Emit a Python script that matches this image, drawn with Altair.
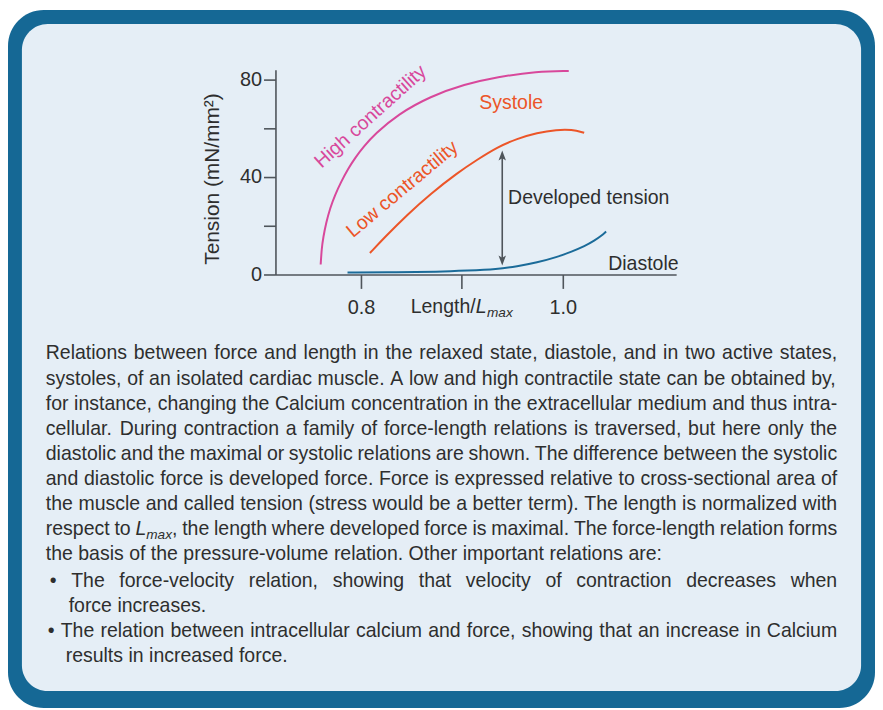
import altair as alt
import pandas as pd

# ---------------- data ----------------
high_L = [0.7601, 0.7611, 0.7626, 0.7655, 0.7695, 0.7744, 0.7803, 0.7872, 0.7941,
          0.8030, 0.8138, 0.8365, 0.8690, 0.9025, 0.9350, 0.9744, 1.0059]
high_T = [4.1, 10.6, 15.1, 21.2, 27.3, 32.7, 38.0, 43.3, 47.8,
          52.6, 57.6, 65.7, 73.1, 78.0, 81.0, 83.3, 83.5]

low_L = [0.8089, 0.8236, 0.8463, 0.8690, 0.8956, 0.9153, 0.9350, 0.9547, 0.9744,
         0.9941, 1.0089, 1.0212]
low_T = [8.8, 15.3, 24.7, 33.1, 41.7, 47.1, 52.2, 55.7, 58.1, 59.4, 59.5, 58.1]

dia_L = [0.7867, 0.8365, 0.8759, 0.9054, 0.9350, 0.9547, 0.9744, 0.9941, 1.0089,
         1.0217, 1.0315, 1.0384, 1.0429]
dia_T = [0.8, 0.9, 1.1, 1.6, 2.2, 3.3, 4.9, 7.1, 9.4, 11.6, 13.9, 15.9, 17.6]

series_names = ["high", "low", "dia"]
series_colors = ["#d8489b", "#ec5528", "#1b6b99"]

x_ticks = [0.8, 0.9, 1.0]
y_ticks = [0, 20, 40, 60, 80]

arrow_L = 0.94
arrow_lo = 5.7
arrow_hi = 48.8

caption_lines = [
    "Relations between force and length in the relaxed state, diastole, and in two active states,",
    "systoles, of an isolated cardiac muscle. A low and high contractile state can be obtained by,",
    "for instance, changing the Calcium concentration in the extracellular medium and thus intra-",
    "cellular. During contraction a family of force-length relations is traversed, but here only the",
    "diastolic and the maximal or systolic relations are shown. The difference between the systolic",
    "and diastolic force is developed force. Force is expressed relative to cross-sectional area of",
    "the muscle and called tension (stress would be a better term). The length is normalized with",
    "respect to L_max, the length where developed force is maximal. The force-length relation forms",
    "the basis of the pressure-volume relation. Other important relations are:",
    "\u2022 The force-velocity relation, showing that velocity of contraction decreases when",
    "force increases.",
    "\u2022 The relation between intracellular calcium and force, showing that an increase in Calcium",
    "results in increased force.",
]

# ---------------- style / layout ----------------
FONT = "Liberation Sans"
F = 19.6       # caption font size
FA = 19.6      # annotation font size
FL = 20.0      # tick label font size
TXT = "#2e2e2e"
AX = "#4f555b"
OUTER = "#156895"
INNER = "#e5eef6"

OX, OY = 277, 68          # page position of plot origin
W, H = 403, 206
X_LO, X_HI = 0.7153, 1.1123
Y_HI = 84

AFM = {
    " ": 278, ",": 278, ".": 278, "-": 333, ":": 278, "(": 333, ")": 333, "/": 278,
    "\u2022": 350,
    "0": 556, "1": 556, "2": 556, "3": 556, "4": 556, "5": 556, "6": 556, "7": 556, "8": 556, "9": 556,
    "A": 667, "B": 667, "C": 722, "D": 722, "E": 667, "F": 611, "G": 778, "H": 722, "I": 278,
    "J": 500, "K": 667, "L": 556, "M": 833, "N": 722, "O": 778, "P": 667, "Q": 778, "R": 722,
    "S": 667, "T": 611, "U": 722, "V": 667, "W": 944, "X": 667, "Y": 667, "Z": 611,
    "a": 556, "b": 556, "c": 500, "d": 556, "e": 556, "f": 278, "g": 556, "h": 556, "i": 222,
    "j": 222, "k": 500, "l": 222, "m": 833, "n": 556, "o": 556, "p": 556, "q": 556, "r": 333,
    "s": 500, "t": 278, "u": 556, "v": 500, "w": 722, "x": 500, "y": 500, "z": 500,
}


def tw(s, size):
    return sum(AFM.get(ch, 556) for ch in s) * size / 1000.0


def seg_word(w):
    if w.startswith("L_max"):
        return [("L", "i"), ("max", "s"), (w[5:], "n")]
    return [(w, "n")]


def segw(seg, size):
    t, st = seg
    return tw(t, size * 0.7 if st == "s" else size)


# justified caption layout
starts = [46] * 9 + [50, 69, 48, 66]
justify = [True] * 8 + [False, True, False, True, False]
bases = [359.5 + 25.2 * i for i in range(9)] + [588, 613, 639, 664]
RIGHT = 842

rows = []
for line, x0, jus, yb in zip(caption_lines, starts, justify, bases):
    words = [seg_word(w) for w in line.split(" ")]
    widths = [sum(segw(s, F) for s in wd) for wd in words]
    if jus and len(words) > 1:
        gap = (RIGHT - x0 - sum(widths)) / (len(words) - 1)
        gap = max(gap, 0.2 * F)
    else:
        gap = tw(" ", F)
    x = x0
    for wd, wdw in zip(words, widths):
        xx = x
        for t, st in wd:
            if t:
                rows.append({"px": xx - OX, "py": yb - OY + (4.5 if st == "s" else 0),
                             "txt": t, "st": st})
            xx += segw((t, st), F)
        x += wdw + gap
cap = pd.DataFrame(rows)

one = pd.DataFrame({"k": [0]})

df = pd.concat([
    pd.DataFrame({"L": high_L, "T": high_T, "s": "high"}),
    pd.DataFrame({"L": low_L, "T": low_T, "s": "low"}),
    pd.DataFrame({"L": dia_L, "T": dia_T, "s": "dia"}),
], ignore_index=True)

xs = alt.Scale(domain=[X_LO, X_HI], nice=False, zero=False)
ys = alt.Scale(domain=[0, Y_HI], nice=False, zero=True)

x_axis = alt.Axis(values=x_ticks, format=".1f",
                  labelExpr="(datum.value > 0.85 && datum.value < 0.95) ? '' : datum.label",
                  title=None, grid=False, tickSize=14, tickWidth=1.6, domainWidth=1.6,
                  domainColor=AX, tickColor=AX, labelColor=TXT, labelFontSize=FL, labelFont=FONT,
                  labelBaseline="alphabetic", labelPadding=25, labelOverlap=False, zindex=1)
y_axis = alt.Axis(values=y_ticks,
                  labelExpr="(datum.value == 20 || datum.value == 60) ? '' : datum.label",
                  title=None, grid=False, tickSize=12, tickWidth=1.6, domainWidth=1.6,
                  domainColor=AX, tickColor=AX, labelColor=TXT, labelFontSize=FL, labelFont=FONT,
                  labelPadding=2, labelOverlap=False, zindex=1)

outer = alt.Chart(one).mark_rect(color=OUTER, cornerRadius=36).encode(
    x=alt.value(8 - OX), x2=alt.value(880 - OX), y=alt.value(8 - OY), y2=alt.value(710 - OY))
inner = alt.Chart(one).mark_rect(color=INNER, cornerRadius=26).encode(
    x=alt.value(22 - OX), x2=alt.value(866 - OX), y=alt.value(22 - OY), y2=alt.value(693 - OY))

lines = alt.Chart(df).mark_line(strokeWidth=2, interpolate="basis").encode(
    x=alt.X("L:Q", scale=xs, axis=x_axis),
    y=alt.Y("T:Q", scale=ys, axis=y_axis),
    color=alt.Color("s:N", scale=alt.Scale(domain=series_names, range=series_colors), legend=None),
    detail="s:N",
)

arrow_rule = alt.Chart(one).mark_rule(color=AX, strokeWidth=1.6).encode(
    x=alt.datum(arrow_L), y=alt.datum(arrow_lo), y2=alt.datum(arrow_hi))
head_up = alt.Chart(one).mark_point(shape="M0,-1L0.75,1L0,0.55L-0.75,1Z", filled=True,
                                    size=100, color=AX, opacity=1).encode(
    x=alt.datum(arrow_L), y=alt.datum(arrow_hi))
head_dn = alt.Chart(one).mark_point(shape="M0,1L0.75,-1L0,-0.55L-0.75,-1Z", filled=True,
                                    size=100, color=AX, opacity=1).encode(
    x=alt.datum(arrow_L), y=alt.datum(arrow_lo))


def ann(text, L, T, color, angle=0, align="left", baseline="alphabetic"):
    return alt.Chart(one).mark_text(text=text, font=FONT, fontSize=FA, color=color,
                                    angle=angle, align=align, baseline=baseline).encode(
        x=alt.datum(L), y=alt.datum(T))


a_high = ann("High contractility", 0.8095, 64.8, series_colors[0], angle=318, align="center", baseline="middle")
a_low = ann("Low contractility", 0.841, 35.0, series_colors[1], angle=320, align="center", baseline="middle")
a_sys = ann("Systole", 0.9172, 67.7, series_colors[1])
a_dev = ann("Developed tension", 0.9458, 29.0, TXT)
a_dia = ann("Diastole", 1.045, 2.04, TXT)


def pix_text(text, px, py, size=FA, style=None, angle=0, align="left", baseline="alphabetic"):
    kw = dict(text=text, font=FONT, fontSize=size, color=TXT, angle=angle, align=align, baseline=baseline)
    if style:
        kw["fontStyle"] = style
    return alt.Chart(one).mark_text(**kw).encode(x=alt.value(px - OX), y=alt.value(py - OY))


ytitle = pix_text("Tension (mN/mm\u00b2)", 214, 178, size=21, angle=270, align="center", baseline="middle")
xt0 = 413
xt1 = xt0 + tw("Length/", FA)
xt2 = xt1 + tw("L", FA) + 0.5
xtitle_a = pix_text("Length/", xt0, 312.5)
xtitle_b = pix_text("L", xt1, 312.5, style="italic")
xtitle_c = pix_text("max", xt2, 317, size=FA * 0.7, style="italic")


def cap_layer(st, size, style=None):
    kw = dict(align="left", baseline="alphabetic", font=FONT, fontSize=size, color=TXT)
    if style:
        kw["fontStyle"] = style
    return alt.Chart(cap[cap.st == st]).mark_text(**kw).encode(
        x=alt.X("px:Q", scale=None, axis=None),
        y=alt.Y("py:Q", scale=None, axis=None),
        text="txt:N")


cap_n = cap_layer("n", F)
cap_i = cap_layer("i", F, "italic")
cap_s = cap_layer("s", F * 0.7, "italic")

chart = alt.layer(
    outer, inner, lines, arrow_rule, head_up, head_dn,
    a_high, a_low, a_sys, a_dev, a_dia,
    ytitle, xtitle_a, xtitle_b, xtitle_c,
    cap_n, cap_i, cap_s,
).properties(width=W, height=H, padding=0, background="white"
).configure_view(stroke="transparent").configure(font=FONT)

chart.save("out.html", embed_options={"renderer": "svg", "actions": False})
